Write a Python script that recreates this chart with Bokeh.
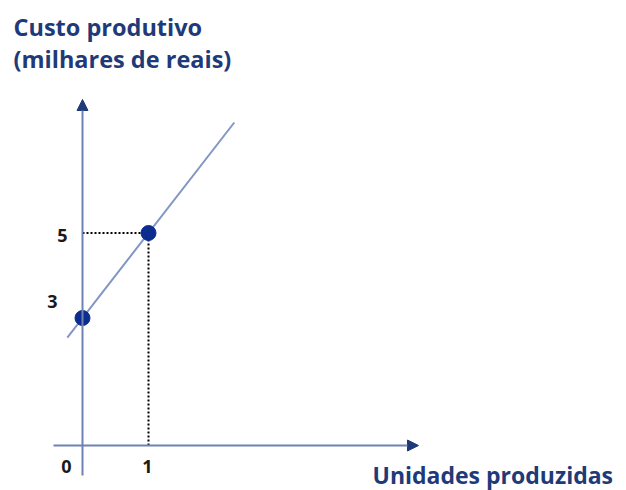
from bokeh.plotting import figure
from bokeh.models import Arrow, NormalHead, Range1d
from bokeh.core.properties import value
from bokeh.embed import file_html
from bokeh.resources import INLINE

# data
line_x = [-0.23, 2.3]
intercept = 3
slope = 2
pts_x = [0, 1]
pts_y = [3, 5]
x_ticks = [0, 1]
y_ticks = [3, 5]
y_title = ["Custo produtivo", "(milhares de reais)"]
x_title = "Unidades produzidas"

NAVY = "#1f3a78"
AXIS = "#6f82b4"
LINE = "#8296c4"
PT = "#0c2c8e"

W, H = 626, 490
OFF = 0
# pixel mapping (page px): x = 82 + 66*xd ; y = 445 - 42.5*yd
def dx(px):
    return (px - 82) / 66
def dy(py):
    return (445 - py) / 42.5

p = figure(width=W, height=H, output_backend="svg", toolbar_location=None,
           x_range=Range1d(dx(OFF), dx(OFF + W)), y_range=Range1d(dy(OFF + H), dy(OFF)),
           min_border=0, outline_line_color=None)
p.axis.visible = False
p.grid.visible = False
p.background_fill_color = "white"
p.border_fill_color = "white"

# dotted guides
p.line([0, pts_x[1]], [pts_y[1], pts_y[1]], line_color="black", line_width=2, line_dash="2 2")
p.line([pts_x[1], pts_x[1]], [0, pts_y[1]], line_color="black", line_width=2, line_dash="2 2")

# axes with arrows
p.add_layout(Arrow(end=NormalHead(size=11, fill_color=NAVY, line_color=NAVY),
                   x_start=0, y_start=dy(475), x_end=0, y_end=dy(99),
                   line_color=AXIS, line_width=2))
p.add_layout(Arrow(end=NormalHead(size=11, fill_color=NAVY, line_color=NAVY),
                   x_start=dx(53), y_start=0, x_end=dx(418), y_end=0,
                   line_color=AXIS, line_width=2))

# cost line
line_y = [intercept + slope * v for v in line_x]
p.line(line_x, line_y, line_color=LINE, line_width=2)

# points
p.scatter(pts_x, pts_y, size=15, fill_color=PT, line_color=PT)

# tick labels
p.text(x=[dx(66), dx(147)], y=[dy(466)] * 2, text=[str(t) for t in x_ticks],
       text_font=value("Open Sans"), text_font_style="bold", text_font_size="18px",
       text_color="#1a1a1a", text_align="center", text_baseline="middle")
p.text(x=[dx(52), dx(62)], y=[dy(301), dy(235)], text=[str(t) for t in y_ticks],
       text_font=value("Open Sans"), text_font_style="bold", text_font_size="18px",
       text_color="#1a1a1a", text_align="center", text_baseline="middle")

# titles
p.text(x=[dx(13)] * 2, y=[dy(26), dy(58)], text=y_title,
       text_font=value("Open Sans"), text_font_style="bold", text_font_size="23.5px",
       text_color=NAVY, text_align="left", text_baseline="middle")
p.text(x=[dx(372)], y=[dy(474)], text=[x_title],
       text_font=value("Open Sans"), text_font_style="bold", text_font_size="23px",
       text_color=NAVY, text_align="left", text_baseline="middle")

open("out.html", "w").write(file_html(p, INLINE))
